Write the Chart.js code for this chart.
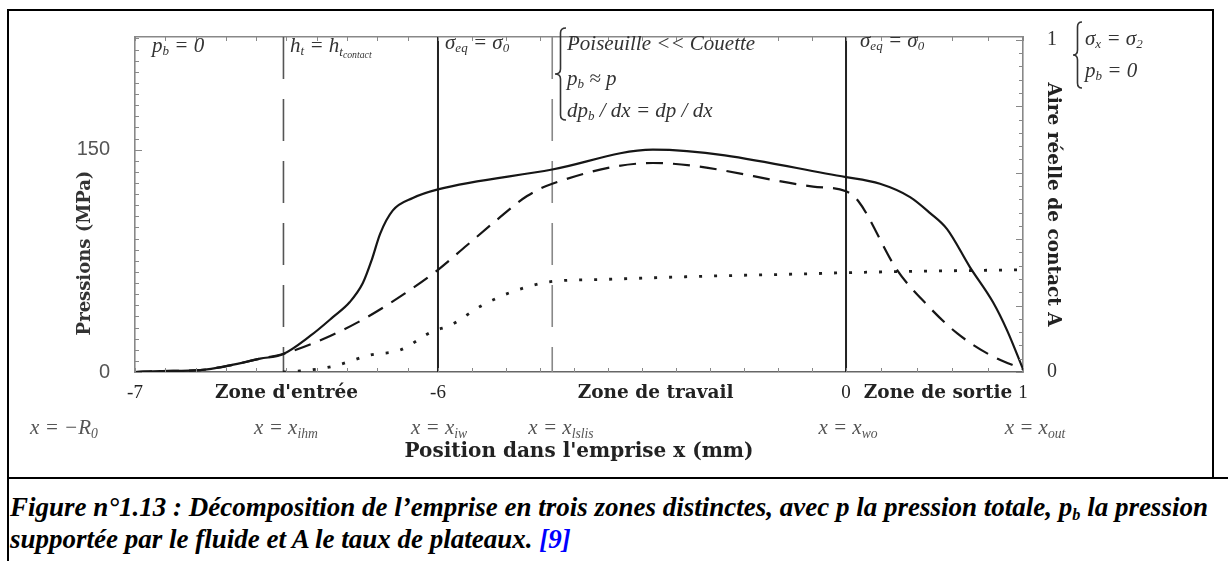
<!DOCTYPE html>
<html><head><meta charset="utf-8">
<script src="https://cdn.jsdelivr.net/npm/chart.js@4.4.0/dist/chart.umd.min.js"></script>
<style>
html,body{margin:0;padding:0;background:#fff;}
body{width:1228px;height:561px;position:relative;overflow:hidden;font-family:"Liberation Serif",serif;}
#wrap{position:absolute;left:0;top:0;width:1228px;height:478px;}
.ln{position:absolute;background:#000;}
.t{position:absolute;white-space:nowrap;color:#333;font-style:italic;font-size:21px;line-height:1;transform:translateY(-50%);}
.t sub{font-size:0.62em;vertical-align:-0.28em;line-height:0;}
.t sub sub{font-size:0.75em;}
.r{position:absolute;white-space:nowrap;color:#555;font-style:italic;font-size:21px;line-height:1;transform:translate(-50%,-50%);}
.r sub{font-size:0.65em;vertical-align:-0.3em;line-height:0;}
#ytitle{position:absolute;left:83px;top:253px;transform:translate(-50%,-50%) rotate(-90deg);font-family:"DejaVu Serif",serif;font-weight:bold;font-size:18px;color:#333;white-space:nowrap;}
#cap{position:absolute;left:10px;top:491px;font-style:italic;font-weight:bold;font-size:27px;line-height:32px;color:#000;white-space:nowrap;}
#cap sub{font-size:0.6em;vertical-align:-0.25em;line-height:0;}
#cap .ref{color:#0000ff;}
svg{position:absolute;left:0;top:0;}
</style>
</head><body>
<div id="wrap"><canvas id="c" width="1228" height="478"></canvas></div>

<div class="ln" style="left:8px;top:9px;width:1206px;height:2px"></div>
<div class="ln" style="left:7px;top:9px;width:2px;height:552px"></div>
<div class="ln" style="left:1212px;top:9px;width:2px;height:470px"></div>
<div class="ln" style="left:7px;top:477px;width:1221px;height:2px"></div>

<svg width="1228" height="478">
  <path id="b1" fill="none" stroke="#333" stroke-width="1.6"/>
  <path id="b2" fill="none" stroke="#333" stroke-width="1.6"/>
</svg>

<div class="t" style="left:152px;top:45px">p<sub>b</sub> = 0</div>
<div class="t" style="left:290px;top:45px">h<sub>t</sub> = h<sub>t<sub>contact</sub></sub></div>
<div class="t" style="left:445px;top:42px">σ<sub>eq</sub> = σ<sub>0</sub></div>
<div class="t" style="left:567px;top:43px">Poiseuille &lt;&lt; Couette</div>
<div class="t" style="left:567px;top:78px">p<sub>b</sub> ≈ p</div>
<div class="t" style="left:567px;top:110px">dp<sub>b</sub> / dx = dp / dx</div>
<div class="t" style="left:860px;top:40px">σ<sub>eq</sub> = σ<sub>0</sub></div>
<div class="t" style="left:1085px;top:38px">σ<sub>x</sub> = σ<sub>2</sub></div>
<div class="t" style="left:1085px;top:70px">p<sub>b</sub> = 0</div>

<div class="r" style="left:64px;top:427px">x = −R<sub>0</sub></div>
<div class="r" style="left:286px;top:427px">x = x<sub>ihm</sub></div>
<div class="r" style="left:439px;top:427px">x = x<sub>iw</sub></div>
<div class="r" style="left:561px;top:427px">x = x<sub>lslis</sub></div>
<div class="r" style="left:848px;top:427px">x = x<sub>wo</sub></div>
<div class="r" style="left:1035px;top:427px">x = x<sub>out</sub></div>

<div id="ytitle">Pressions (MPa)</div>

<div id="cap">Figure n°1.13 : Décomposition de l’emprise en trois zones distinctes, avec p la pression totale, p<sub>b</sub> la pression<br>supportée par le fluide et A le taux de plateaux. <span class="ref">[9]</span></div>

<script>
// ---------- data ----------
const xTotal = [-7, -6.917, -6.785, -6.686, -6.587, -6.512, -6.422, -6.347, -6.291, -6.248, -6.218, -6.191, -6.149, -6.083, -6, -4.32, -2.84, 0, 0.192, 0.362, 0.475, 0.571, 0.70, 0.83, 0.91, 1];
const pTotal = [0, 0.6, 1.3, 4.5, 9, 12, 24.3, 37, 47.2, 60, 76, 93.2, 109, 117.4, 123.2, 136.6, 150, 131.5, 127, 118, 107.2, 96.4, 70.8, 47.2, 28.1, 2];

const xFluid = [-7, -6.917, -6.785, -6.686, -6.587, -6.512, -6.356, -6.234, -6.109, -6, -5.574, -5.132, -4.69, -4.32, -2.84, -0.485, 0, 0.068, 0.288, 0.458, 0.627, 0.814, 1];
const pFluid = [0, 0.6, 1.3, 4.5, 9, 12.1, 24.3, 37, 53, 68.9, 85.5, 102.7, 118.7, 127, 141, 125.1, 121.9, 115.5, 68.9, 45.3, 26.2, 11.5, 1.9];

const xArea = [-6.512, -6.455, -6.347, -6.224, -6.125, -6.017, -5.824, -5.382, -4.941, -4.456, -4.25, -3.515, -2.147, -0.485, 0, 1];
const aArea = [0, 0.003, 0.017, 0.051, 0.066, 0.123, 0.14, 0.197, 0.239, 0.268, 0.274, 0.279, 0.288, 0.296, 0.299, 0.308];

const zoneLineX = [-6.51, -6, -4.32, 0];

const xTickValues = [-7, -6.5, -6, -2.8, 0, 0.52, 1];
const xTickLabels = ['-7', "Zone d'entrée", '-6', 'Zone de travail', '0', 'Zone de sortie', '1'];
const yTickValues = [0, 150];
const y1TickValues = [0, 1];

// ---------- piecewise x scale (zones are drawn at different widths) ----------
class PiecewiseScale extends Chart.LinearScale {
  static id = 'piecewise';
  static defaults = Object.assign({}, Chart.LinearScale.defaults);
  _frac(v) {
    const b = [-7, -6, 0, 1], f = [0, 0.3412, 0.8007, 1];
    if (v <= b[0]) return f[0] + (v - b[0]) * (f[1] - f[0]);
    for (let i = 0; i < 3; i++) {
      if (v <= b[i + 1]) return f[i] + (v - b[i]) / (b[i + 1] - b[i]) * (f[i + 1] - f[i]);
    }
    return 1 + (v - 1) * (f[3] - f[2]);
  }
  _inv(d) {
    const b = [-7, -6, 0, 1], f = [0, 0.3412, 0.8007, 1];
    for (let i = 0; i < 3; i++) {
      if (d <= f[i + 1]) return b[i] + (d - f[i]) / (f[i + 1] - f[i]) * (b[i + 1] - b[i]);
    }
    return 1;
  }
  getPixelForValue(v) { return this.getPixelForDecimal(this._frac(v)); }
  getValueForPixel(p) { return this._inv(this.getDecimalForPixel(p)); }
}
Chart.register(PiecewiseScale);

const pts = (xs, ys) => xs.map((x, i) => ({x: x, y: ys[i]}));
const Y_MAX = 226, A_MAX = 1.0085;

const datasets = [
  {data: pts(xTotal, pTotal), borderColor: '#161616', borderWidth: 2.2, yAxisID: 'y', cubicInterpolationMode: 'monotone', order: 1},
  {data: pts(xFluid, pFluid), borderColor: '#161616', borderWidth: 2.2, borderDash: [17, 10], yAxisID: 'y', cubicInterpolationMode: 'monotone', order: 1},
  {data: pts(xArea, aArea), borderColor: '#1e1e1e', borderWidth: 2.8, borderDash: [3, 12], yAxisID: 'y1', cubicInterpolationMode: 'monotone', order: 1}
];
zoneLineX.forEach((v, i) => {
  const dashed = (i === 0 || i === 2);
  datasets.push({
    data: [{x: v, y: Y_MAX}, {x: v, y: 0}],
    borderColor: dashed ? (i === 0 ? '#555' : '#888') : '#222',
    borderWidth: dashed ? 1.6 : 2,
    borderDash: dashed ? [42, 20] : [],
    yAxisID: 'y', order: 10
  });
});

const innerTicks = {
  id: 'innerTicks',
  afterDraw(chart) {
    const {ctx, chartArea: a, scales} = chart;
    ctx.save();
    ctx.strokeStyle = '#888'; ctx.lineWidth = 1;
    const seg = (x1, y1, x2, y2) => { ctx.beginPath(); ctx.moveTo(x1, y1); ctx.lineTo(x2, y2); ctx.stroke(); };
    for (let k = 0; k <= 30; k++) {
      const v = k * 7.5, y = Math.round(scales.y.getPixelForValue(v)) + 0.5;
      const L = (k % 20 === 0) ? 7 : 4;
      if (v <= Y_MAX) seg(a.left, y, a.left + L, y);
    }
    for (let k = 0; k <= 25; k++) {
      const y = Math.round(scales.y1.getPixelForValue(k * 0.04)) + 0.5;
      const L = (k % 5 === 0) ? 7 : 4;
      seg(a.right, y, a.right - L, y);
    }
    const xs = [];
    for (let k = 0; k <= 10; k++) xs.push(-7 + k * 0.1);
    for (let k = 1; k <= 12; k++) xs.push(-6 + k * 0.5);
    for (let k = 1; k <= 5; k++) xs.push(k * 0.2);
    xs.forEach((v) => {
      const x = Math.round(scales.x.getPixelForValue(v)) + 0.5;
      seg(x, a.bottom, x, a.bottom - 4);
      seg(x, a.top, x, a.top + 4);
    });
    ctx.restore();
  }
};

new Chart(document.getElementById('c'), {
  type: 'line',
  data: {datasets: datasets},
  options: {
    responsive: false, animation: false, devicePixelRatio: 1,
    layout: {padding: 0},
    elements: {point: {radius: 0}},
    plugins: {legend: {display: false}, tooltip: {enabled: false}},
    scales: {
      x: {
        type: 'piecewise', position: 'bottom', min: -7, max: 1,
        afterFit(s) { s.height = 106; },
        afterBuildTicks(s) { s.ticks = xTickValues.map(v => ({value: v})); },
        grid: {display: false, drawTicks: false},
        border: {display: true, color: '#666', width: 1.6},
        ticks: {
          autoSkip: false, maxRotation: 0, minRotation: 0, padding: 10, color: '#222',
          callback: (v, i) => xTickLabels[i],
          font: (ctx) => (ctx.index % 2 === 1)
            ? {family: "'DejaVu Serif', serif", size: 18.5, weight: 'bold'}
            : {family: "'Liberation Serif', serif", size: 19, weight: 'normal'}
        },
        title: {display: true, text: "Position dans l'emprise x (mm)", color: '#222',
          font: {family: "'DejaVu Serif', serif", size: 20, weight: 'bold'}, padding: {top: 0, bottom: 14}}
      },
      x2: {
        type: 'piecewise', position: 'top', min: -7, max: 1,
        afterFit(s) { s.height = 17; },
        grid: {display: false, drawTicks: false},
        border: {display: true, color: '#888', width: 1.6},
        ticks: {display: false}
      },
      y: {
        type: 'linear', position: 'left', min: 0, max: Y_MAX,
        afterFit(s) { s.width = 135; },
        afterBuildTicks(s) { s.ticks = yTickValues.map(v => ({value: v})); },
        grid: {display: false, drawTicks: false},
        border: {display: true, color: '#888', width: 1.6},
        ticks: {padding: 25, color: '#555', font: {family: "'Liberation Sans', sans-serif", size: 20}}
      },
      y1: {
        type: 'linear', position: 'right', min: 0, max: A_MAX,
        afterFit(s) { s.width = 205; },
        afterBuildTicks(s) { s.ticks = y1TickValues.map(v => ({value: v})); },
        grid: {display: false, drawTicks: false},
        border: {display: true, color: '#888', width: 1.6},
        ticks: {padding: 24, color: '#333', font: {family: "'Liberation Serif', serif", size: 20}},
        title: {display: true, text: 'Aire réelle de contact A', color: '#222',
          font: {family: "'DejaVu Serif', serif", size: 18.5, weight: 'bold'}, padding: {top: 164, bottom: 0}}
      }
    }
  },
  plugins: [innerTicks]
});

// braces
function bracePath(xl, xr, yt, yb) {
  const xm = (xl + xr) / 2, ym = (yt + yb) / 2, r = 5;
  return `M${xr},${yt} Q${xm},${yt} ${xm},${yt + r} L${xm},${ym - r} Q${xm},${ym} ${xl},${ym} Q${xm},${ym} ${xm},${ym + r} L${xm},${yb - r} Q${xm},${yb} ${xr},${yb}`;
}
document.getElementById('b1').setAttribute('d', bracePath(555, 566, 28, 120));
document.getElementById('b2').setAttribute('d', bracePath(1073, 1082, 22, 88));
</script>
</body></html>
